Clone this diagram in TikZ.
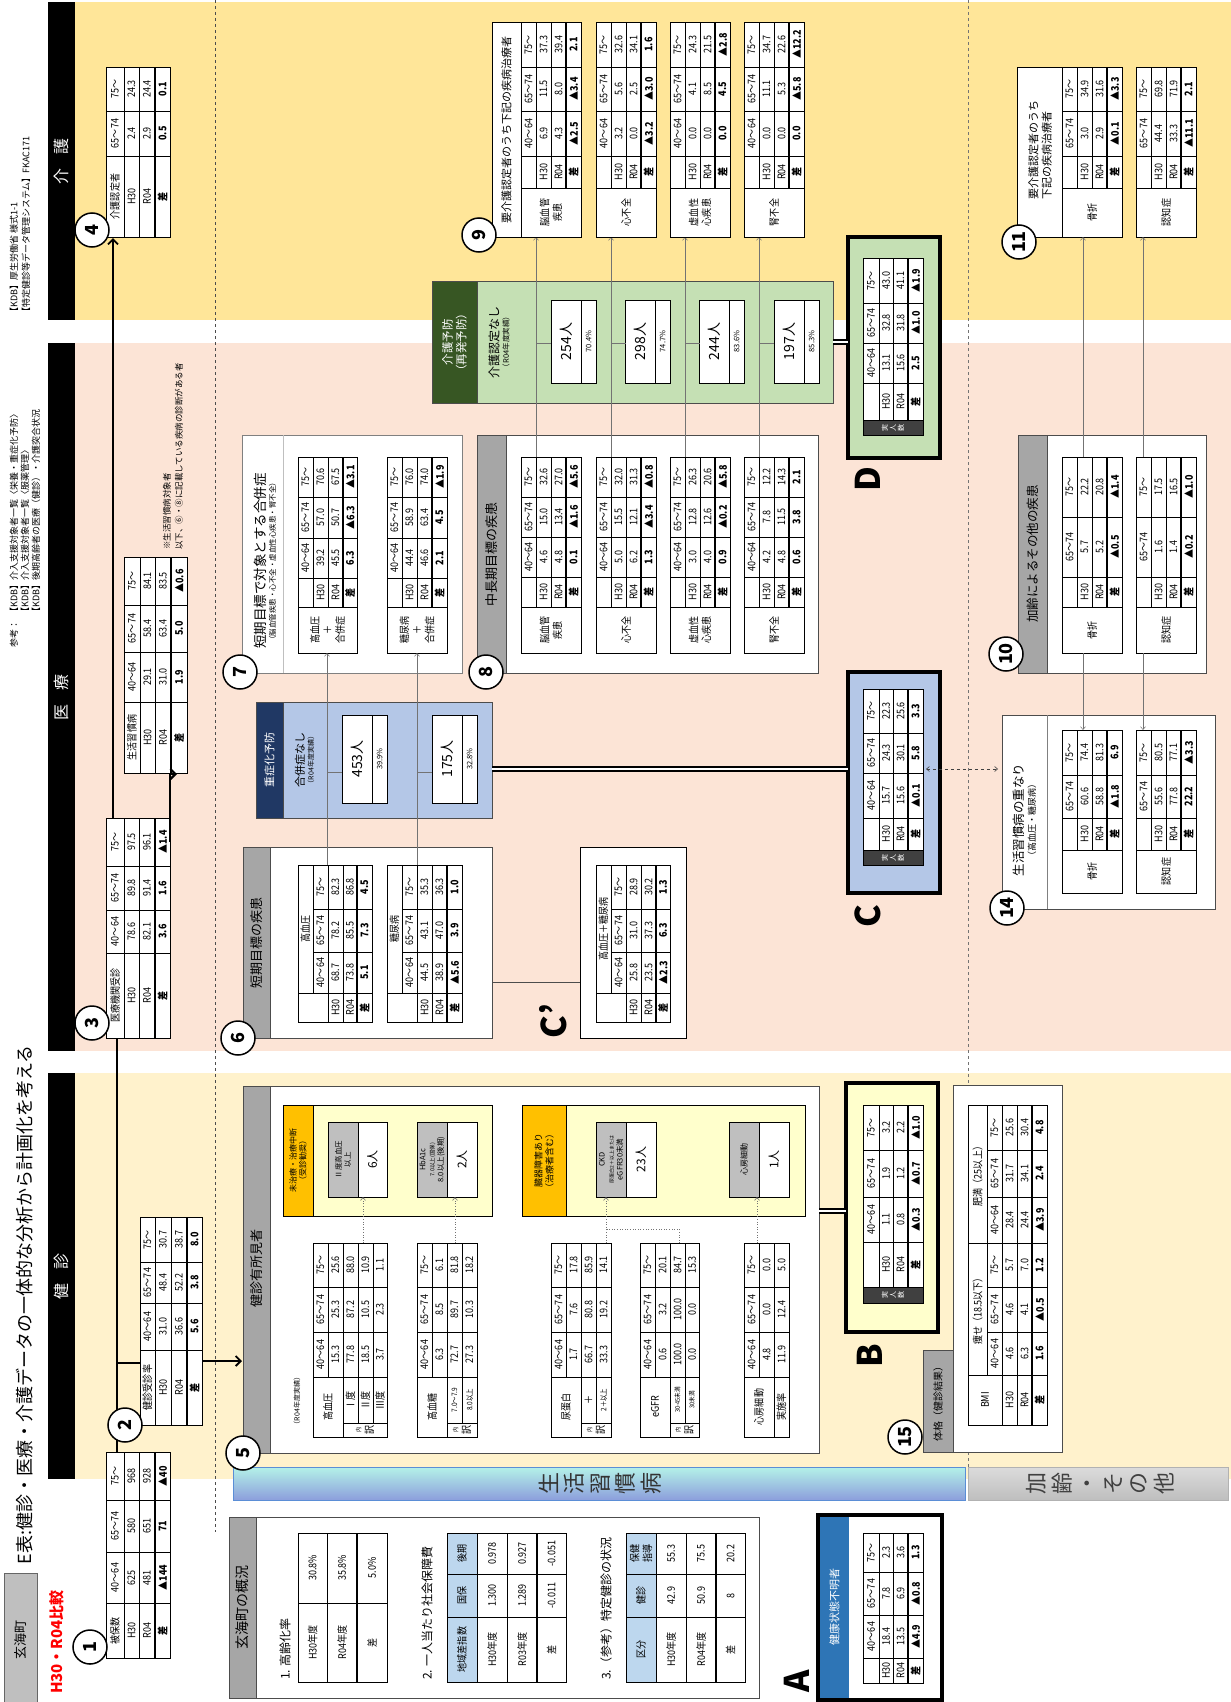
\documentclass[tikz,border=0pt]{standalone}
\usepackage{fontspec}
\setmainfont{Noto Sans CJK JP}
\newfontfamily\tabfont[FakeStretch=0.86]{Noto Sans CJK JP}
\usetikzlibrary{arrows.meta}
\definecolor{kaigo}{HTML}{FFE699}
\definecolor{iryo}{HTML}{FCE4D6}
\definecolor{kensin}{HTML}{FFF2CC}
\definecolor{ltyel}{HTML}{FFFFCC}
\definecolor{orng}{HTML}{FFC000}
\definecolor{gstrip}{HTML}{A6A6A6}
\definecolor{gcell}{HTML}{BFBFBF}
\definecolor{navy}{HTML}{203864}
\definecolor{ltblue}{HTML}{B4C7E7}
\definecolor{dkgreen}{HTML}{375623}
\definecolor{ltgreen}{HTML}{C5E0B4}
\definecolor{hdblue}{HTML}{BDD7EE}
\definecolor{blueA}{HTML}{2E75B6}
\definecolor{darkcell}{HTML}{404040}
\definecolor{cyanL}{HTML}{B4F2E8}
\definecolor{blueR}{HTML}{8C9EDC}
\definecolor{bandbd}{HTML}{5B8ED6}
\definecolor{grayL}{HTML}{DCDCDC}
\definecolor{grayR}{HTML}{BEBEBE}
\newcommand\fsz[1]{\fontsize{#1}{#1}\selectfont\baselineskip=1.2\baselineskip}
\newcommand\emp{}
\tikzset{
  cellb/.style={draw=black, line width=0.6pt},
  celltxt/.style={font=\tabfont\fsz{10.5}, inner sep=0pt, align=center},
  boxb/.style={draw=black!70, line width=0.8pt},
  numc/.style={circle, draw=black, line width=1.5pt, fill=white, minimum size=34pt, inner sep=0pt, font=\fsz{18}\bfseries},
  bigl/.style={font=\fsz{34}\bfseries, inner sep=0pt},
  hbar/.style={text=white, font=\fsz{16}},
  lbl/.style={inner sep=0pt, align=center},
  trunk/.style={draw=black, line width=1.8pt},
  barb/.style={-{Straight Barb[length=5pt,width=10pt]}},
  thinarr/.style={draw=black!55, line width=0.5pt, -{Straight Barb[length=3pt,width=5pt]}},
  thinln/.style={draw=black!55, line width=0.5pt},
  dotarr/.style={draw=black!55, line width=0.6pt, dotted, -{Straight Barb[length=3pt,width=5pt]}},
  dotln/.style={draw=black!55, line width=0.6pt, dotted},
  dbl/.style={draw=black, line width=1.3pt, double=white, double distance=2.5pt},
  thickbox/.style={draw=black, line width=3.5pt},
}
\newcommand\gtab[3]{%
  \def\tC{{#1}}\def\tR{{#2}}%
  \foreach \rw [count=\i from 0] in {#3} {%
    \foreach \cl [count=\j from 0] in \rw {%
      \pgfmathsetmacro\ya{\tC[\j]}\pgfmathsetmacro\yb{\tC[\j+1]}%
      \pgfmathsetmacro\xa{\tR[\i]}\pgfmathsetmacro\xb{\tR[\i+1]}%
      \draw[cellb, fill=white] (\ya,\xa) rectangle (\yb,\xb);
      \node[celltxt] at ({(\ya+\yb)/2},{(\xa+\xb)/2}) {\cl};
    }%
  }%
}
\newcommand\dtab[3]{%
  \def\tC{{#1}}\def\tR{{#2}}%
  \pgfmathtruncatemacro\tLR{dim(\tR)-2}%
  \pgfmathtruncatemacro\tLC{dim(\tC)-1}%
  \foreach \rw [count=\i from 0] in {#3} {%
    \foreach \cl [count=\j from 0] in \rw {%
      \pgfmathsetmacro\ya{\tC[\j]}\pgfmathsetmacro\yb{\tC[\j+1]}%
      \pgfmathsetmacro\xa{\tR[\i]}\pgfmathsetmacro\xb{\tR[\i+1]}%
      \draw[cellb, fill=white] (\ya,\xa) rectangle (\yb,\xb);
      \node[celltxt] at ({(\ya+\yb)/2},{(\xa+\xb)/2}) {\ifnum\i=\tLR\relax\bfseries\fi\cl};
    }%
  }%
  \pgfmathsetmacro\ya{\tC[0]}\pgfmathsetmacro\yb{\tC[\tLC]}\pgfmathsetmacro\xa{\tR[\tLR]}%
  \draw[line width=1.4pt] (\ya,\xa) -- (\yb,\xa);
}
\newcommand\mcell[6][]{%
  \draw[cellb, fill=white, #1] (#2,#3) rectangle (#4,#5);
  \node[celltxt] at ({(#2+#4)/2},{(#3+#5)/2}) {#6};
}
\begin{document}
\begin{tikzpicture}
\begin{scope}[x=-1pt, y=-1pt, rotate=90, transform shape]
\fill[white] (0,0) rectangle (1702,1231);
\useasboundingbox (0,0) rectangle (1702,1231);

% ---------- backgrounds ----------
\fill[kaigo] (2,75) rectangle (320,1231);
\fill[iryo] (343,75) rectangle (1051,1231);
\fill[kensin] (1073,75) rectangle (1479,1231);
\fill[black] (2,48) rectangle (320,75);
\fill[black] (343,48) rectangle (1051,75);
\fill[black] (1073,48) rectangle (1479,75);
\node[hbar] (hKaigo) at (161,61.5) {介\hspace{14pt}護};
\node[hbar] (hIryo) at (697,61.5) {医\hspace{14pt}療};
\node[hbar] (hKen) at (1276,61.5) {健\hspace{14pt}診};

\draw[dashed, draw=black!70, line width=0.6pt] (0,215) -- (1532,215);
\draw[dashed, draw=black!55, line width=0.6pt] (0,968) -- (1500,968);

% ---------- bands ----------
\draw[draw=bandbd, line width=0.8pt, top color=cyanL, bottom color=blueR] (1500,233) rectangle (1467,965);
\node[lbl, font=\fontsize{22}{25.5}\selectfont, text=black!80] (band1) at (1483.5,600) {生\\活\\習\\慣\\病};
\draw[draw=black!30, line width=0.6pt, top color=grayL, bottom color=grayR] (1500,968) rectangle (1467,1228);
\node[lbl, font=\fontsize{22}{25.5}\selectfont, text=black!75] (band2) at (1483.5,1100) {加\\齢\\・\\そ\\の\\他};

% ---------- top texts ----------
\node[anchor=west, inner sep=0pt, font=\fsz{9}] (ref0) at (648,14) {参考：};
\node[anchor=west, inner sep=0pt, font=\fsz{9}] (ref1) at (617,14) {【KDB】介入支援対象者一覧〈栄養・重症化予防〉};
\node[anchor=west, inner sep=0pt, font=\fsz{9}] (ref2) at (617,25) {【KDB】介入支援対象者一覧〈服薬管理〉};
\node[anchor=west, inner sep=0pt, font=\fsz{9}] (ref3) at (617,36) {【KDB】後期高齢者の医療（健診）・介護突合状況};
\node[anchor=west, inner sep=0pt, font=\fsz{9}] (ref4) at (317,14) {【KDB】厚生労働省 様式1-1};
\node[anchor=west, inner sep=0pt, font=\fsz{9}] (ref5) at (317,26) {【特定健診等データ管理システム】FKAC171};
\node[lbl, font=\fsz{18}] (title) at (1305,25) {E表:健診・医療・介護データの一体的な分析から計画化を考える};
\draw[draw=black!60, fill=gcell] (1702,4) rectangle (1573,37);
\node[lbl, font=\fsz{13}] (town) at (1640,20.5) {玄海町};
\node[lbl, font=\fsz{15}\bfseries, text=red] (cmp) at (1642,57) {H30・R04比較};
\node[anchor=west, inner sep=0pt, font=\fsz{8.5}] (note1) at (550,167) {※生活習慣病対象者};
\node[anchor=west, inner sep=0pt, font=\fsz{8.5}] (note2) at (550,179) {以下、⑥・⑧に記載している疾病の診断がある者};

% ---------- tables 1-4 ----------
\dtab{1658,1603,1552,1500,1452}{106,124,139,155,170}{{被保数,40～64,65～74,75～},{H30,625,580,968},{R04,481,651,928},{差,▲144,71,▲40}}
\dtab{1425,1350,1303,1262,1217}{140,155,171,187,202}{{健診受診率,40～64,65～74,75～},{H30,31.0,48.4,30.7},{R04,36.6,52.2,38.7},{差,5.6,3.8,8.0}}
\dtab{1038,953,910,866,818}{106,124,139,155,170}{{医療機関受診,40～64,65～74,75～},{H30,78.6,89.8,97.5},{R04,82.1,91.4,96.1},{差,3.6,1.6,▲1.4}}
\dtab{773,702,652,605,557}{124,140,155,171,187}{{生活習慣病,40～64,65～74,75～},{H30,29.1,58.4,84.1},{R04,31.0,63.4,83.5},{差,1.9,5.0,▲0.6}}
\dtab{237,156,111,67}{106,124,139,155,170}{{介護認定者,65～74,75～},{H30,2.4,24.3},{R04,2.9,24.4},{差,0.5,0.1}}

% ---------- 玄海町の概況 ----------
\draw[boxb, fill=white] (1698,229) rectangle (1517,759);
\draw[boxb, fill=gstrip] (1698,229) rectangle (1517,256);
\node[lbl, font=\fsz{14}] (gaikyo) at (1607,242.5) {玄海町の概況};
\node[anchor=west, inner sep=0pt, font=\fsz{12}] (g1) at (1680,285) {1. 高齢化率};
\gtab{1682,1603,1533}{298,327,357,387}{{H30年度,30.8\%},{R04年度,35.8\%},{差,5.0\%}}
\draw[line width=1.4pt] (1682,357) -- (1533,357);
\node[anchor=west, inner sep=0pt, font=\fsz{12}] (g2) at (1680,427) {2. 一人当たり社会保障費};
\gtab{1682,1617,1574,1533}{447,477,507,537,566}{{地域差指数,国保,後期},{H30年度,1.300,0.978},{R03年度,1.289,0.927},{差,-0.011,-0.051}}
\mcell[fill=hdblue]{1682}{447}{1617}{477}{地域差指数}
\mcell[fill=hdblue]{1617}{447}{1574}{477}{国保}
\mcell[fill=hdblue]{1574}{447}{1533}{477}{後期}
\draw[line width=1.4pt] (1682,537) -- (1533,537);
\node[anchor=west, inner sep=0pt, font=\fsz{12}] (g3) at (1680,606) {3.（参考）特定健診の状況};
\gtab{1682,1617,1574,1533}{626,656,686,716,745}{{区分,健診,保健指導},{H30年度,42.9,55.3},{R04年度,50.9,75.5},{差,8,20.2}}
\mcell[fill=hdblue]{1682}{626}{1617}{656}{区分}
\mcell[fill=hdblue]{1617}{626}{1574}{656}{健診}
\mcell[fill=hdblue]{1574}{626}{1533}{656}{保健\\指導}
\draw[line width=1.4pt] (1682,716) -- (1533,716);

% ---------- Box A ----------
\draw[thickbox, fill=white] (1700,818) rectangle (1515,942);
\fill[blueA] (1698,820) rectangle (1517,849);
\node[lbl, text=white, font=\fsz{11}] (aHead) at (1607,834.5) {健康状態不明者};
\dtab{1683,1658,1615,1572,1533}{863,879,893,908,923}{{\emp,40～64,65～74,75～},{H30,18.4,7.8,2.3},{R04,13.5,6.9,3.6},{差,▲4.9,▲0.8,1.3}}
\node[bigl] (letA) at (1681,797) {A};

% ---------- Box 5 ----------
\draw[boxb, fill=white] (1453,243) rectangle (1086,819);
\draw[boxb, fill=gstrip] (1453,243) rectangle (1086,270);
\node[lbl, font=\fsz{13}] (b5t) at (1268,256.5) {健診有所見者};
\node[lbl, font=\fsz{7}] (b5s) at (1401,297) {（R04年度実績）};
\gtab{1423,1377,1332,1287,1243}{313,328,343,358,373,387}{{\emp,40～64,65～74,75～},{\emp,15.3,25.3,25.6},{Ⅰ度,77.8,87.2,88.0},{Ⅱ度,18.5,10.5,10.9},{Ⅲ度,3.7,2.3,1.1}}
\mcell{1437}{313}{1377}{343}{高血圧}
\mcell{1437}{343}{1423}{387}{\fsz{6}内\\訳}
\gtab{1423,1377,1332,1287,1243}{417,432,447,462,477}{{\emp,40～64,65～74,75～},{\emp,6.3,8.5,6.1},{\fsz{7.5}7.0～7.9,72.7,89.7,81.8},{\fsz{7.5}8.0以上,27.3,10.3,18.2}}
\mcell{1437}{417}{1377}{447}{高血糖}
\mcell{1437}{447}{1423}{477}{\fsz{6}内\\訳}
\gtab{1423,1377,1332,1287,1243}{551,566,581,596,611}{{\emp,40～64,65～74,75～},{\emp,1.7,7.6,17.8},{＋,66.7,80.8,85.9},{\fsz{7.5}2＋以上,33.3,19.2,14.1}}
\mcell{1437}{551}{1377}{581}{尿蛋白}
\mcell{1437}{581}{1423}{611}{\fsz{6}内\\訳}
\gtab{1423,1377,1332,1287,1243}{640,655,670,685,699}{{\emp,40～64,65～74,75～},{\emp,0.6,3.2,20.1},{\fsz{6.5}30-45未満,100.0,100.0,84.7},{\fsz{6.5}30未満,0.0,0.0,15.3}}
\mcell{1437}{640}{1377}{670}{eGFR}
\mcell{1437}{670}{1423}{699}{\fsz{6}内\\訳}
\gtab{1377,1332,1287,1243}{744,759,774,789}{{40～64,65～74,75～},{4.8,0.0,0.0},{11.9,12.4,5.0}}
\mcell{1437}{744}{1377}{774}{心房細動}
\mcell{1437}{774}{1377}{789}{実施率}

\draw[draw=black, line width=0.8pt, fill=ltyel] (1216,283) rectangle (1105,492);
\draw[draw=black, line width=0.8pt, fill=orng] (1216,283) rectangle (1105,313);
\node[lbl, font=\fsz{8}] (or1) at (1160.5,298) {未治療・治療中断\\（受診勧奨）};
\draw[cellb, fill=gcell] (1197,328) rectangle (1122,358);
\node[lbl, font=\fsz{7.5}] (sb1) at (1159.5,343) {Ⅱ度高血圧\\以上};
\draw[cellb, fill=white] (1197,358) rectangle (1122,387);
\node[lbl, font=\fsz{12}] (p6) at (1159.5,372.5) {6人};
\draw[cellb, fill=gcell] (1197,417) rectangle (1122,447);
\node[lbl, font=\fsz{7.5}] (sb2) at (1159.5,432) {HbA1c\\\fsz{5.5}7.0以上(国保)\\8.0以上(後期)};
\draw[cellb, fill=white] (1197,447) rectangle (1122,477);
\node[lbl, font=\fsz{12}] (p2) at (1159.5,462) {2人};

\draw[draw=black, line width=0.8pt, fill=ltyel] (1216,522) rectangle (1105,805);
\draw[draw=black, line width=0.8pt, fill=orng] (1216,522) rectangle (1105,566);
\node[lbl, font=\fsz{9}] (or2) at (1160.5,544) {臓器障害あり\\（治療者含む）};
\draw[cellb, fill=gcell] (1197,596) rectangle (1122,626);
\node[lbl, font=\fsz{7.5}] (sb3) at (1159.5,611) {CKD\\\fsz{5}尿蛋白2＋以上または\\eGFR30未満};
\draw[cellb, fill=white] (1197,626) rectangle (1122,656);
\node[lbl, font=\fsz{12}] (p23) at (1159.5,641) {23人};
\draw[cellb, fill=gcell] (1197,729) rectangle (1122,759);
\node[lbl, font=\fsz{8}] (sb4) at (1159.5,744) {心房細動};
\draw[cellb, fill=white] (1197,759) rectangle (1122,789);
\node[lbl, font=\fsz{12}] (p1) at (1159.5,774) {1人};

\coordinate (d1a) at (1243,363); \coordinate (d1b) at (1197,363);
\draw[dotarr] (d1a) -- (d1b);
\coordinate (d2a) at (1243,455); \coordinate (d2b) at (1197,455);
\draw[dotarr] (d2a) -- (d2b);
\coordinate (d3a) at (1243,606); \coordinate (d3b) at (1197,606);
\draw[dotarr] (d3a) -- (d3b);
\coordinate (d4a) at (1243,679); \coordinate (d4b) at (1229,679); \coordinate (d4c) at (1229,606);
\draw[dotln] (d4a) -- (d4b) -- (d4c);
\coordinate (d5a) at (1243,757); \coordinate (d5b) at (1197,757);
\draw[dotarr] (d5a) -- (d5b);

% ---------- Box B ----------
\draw[thickbox, fill=ltyel] (1332,846) rectangle (1083,938);
\dtab{1287,1242,1197,1150,1105}{863,879,893,908,923}{{\emp,40～64,65～74,75～},{H30,1.1,1.9,3.2},{R04,0.8,1.2,2.2},{差,▲0.3,▲0.7,▲1.0}}
\draw[cellb, fill=darkcell] (1303,863) rectangle (1287,923);
\node[lbl, text=white, font=\fontsize{7}{8}\selectfont] (jB) at (1295,893) {実\\人\\数};
\node[bigl] (letB) at (1356,870) {B};

% ---------- Box 15 ----------
\draw[boxb, fill=white] (1452,953) rectangle (1085,1062);
\draw[boxb, fill=gstrip] (1452,923) rectangle (1350,953);
\node[lbl, font=\fsz{10}] (b15t) at (1401,938) {体格（健診結果）};
\dtab{1425,1375,1332,1287,1243,1197,1150,1105}{968,987,1002,1017,1032,1047}{{\emp,\emp,\emp,\emp,\emp,\emp,\emp},{\emp,40～64,65～74,75～,40～64,65～74,75～},{H30,4.6,4.6,5.7,28.4,31.7,25.6},{R04,6.3,4.1,7.0,24.4,34.1,30.4},{差,1.6,▲0.5,1.2,▲3.9,2.4,4.8}}
\mcell{1425}{968}{1375}{1002}{BMI}
\mcell{1375}{968}{1243}{987}{痩せ（18.5以下）}
\mcell{1243}{968}{1105}{987}{肥満（25以上）}

% ---------- Box 6 ----------
\draw[boxb, fill=white] (1038,243) rectangle (847,492);
\draw[boxb, fill=gstrip] (1038,243) rectangle (847,270);
\node[lbl, font=\fsz{13}] (b6t) at (942.5,256.5) {短期目標の疾患};
\dtab{1022,993,952,909,865}{298,313,328,343,357,372}{{\emp,\emp,\emp,\emp},{\emp,40～64,65～74,75～},{H30,68.7,78.2,82.3},{R04,73.8,85.5,86.8},{差,5.1,7.3,4.5}}
\mcell{993}{298}{865}{313}{高血圧}
\mcell{1022}{298}{993}{328}{\emp}
\dtab{1022,993,952,909,865}{387,402,417,432,447,462}{{\emp,\emp,\emp,\emp},{\emp,40～64,65～74,75～},{H30,44.5,43.1,35.3},{R04,38.9,47.0,36.3},{差,▲5.6,3.9,1.0}}
\mcell{993}{387}{865}{402}{糖尿病}
\mcell{1022}{387}{993}{417}{\emp}

\draw[draw=black, line width=1pt, fill=white] (1038,580) rectangle (847,686);
\dtab{1022,993,952,909,865}{596,611,626,641,656,670}{{\emp,\emp,\emp,\emp},{\emp,40～64,65～74,75～},{H30,25.8,31.0,28.9},{R04,23.5,37.3,30.2},{差,▲2.3,6.3,1.3}}
\mcell{993}{596}{865}{611}{高血圧＋糖尿病}
\mcell{1022}{596}{993}{626}{\emp}
\coordinate (cpa) at (982,492); \coordinate (cpb) at (982,580);
\draw[draw=black!70, line width=0.7pt] (cpa) -- (cpb);
\node[bigl] (letCp) at (1021,553) {C’};

% ---------- blue box ----------
\draw[boxb, fill=ltblue] (818,256) rectangle (702,492);
\draw[boxb, fill=navy] (818,256) rectangle (702,283);
\node[lbl, text=white, font=\fsz{11}] (bbt) at (760,269.5) {重症化予防};
\node[lbl, font=\fsz{11}] (bbs) at (760,300) {合併症なし};
\node[lbl, font=\fsz{7}] (bbs2) at (760,311) {（R04年度実績）};
\draw[cellb, fill=white] (803,342) rectangle (715,372);
\draw[cellb, fill=white] (803,372) rectangle (715,387);
\node[lbl, font=\fsz{14}] (p453) at (759,357) {453人};
\node[lbl, font=\fsz{7.5}] (r399) at (759,379.5) {39.9\%};
\draw[cellb, fill=white] (803,432) rectangle (715,462);
\draw[cellb, fill=white] (803,462) rectangle (715,477);
\node[lbl, font=\fsz{14}] (p175) at (759,447) {175人};
\node[lbl, font=\fsz{7.5}] (r328) at (759,469.5) {32.8\%};

% ---------- Box 7 ----------
\draw[draw=black!50, line width=0.6pt, fill=white] (673,242) rectangle (435,462);
\draw[draw=black!25, line width=0.5pt] (673,283) -- (435,283);
\node[lbl, font=\fsz{13.5}] (b7t) at (561,260) {短期目標で対象とする合併症};
\node[lbl, font=\fsz{7.5}] (b7s) at (561,272.5) {（脳血管疾患・心不全・虚血性心疾患・腎不全）};
\dtab{607,578,538,497,457}{298,313,328,343,357}{{\emp,40～64,65～74,75～},{H30,39.2,57.0,70.6},{R04,45.5,50.7,67.5},{差,6.3,▲6.3,▲3.1}}
\mcell{653}{298}{607}{357}{高血圧\\＋\\合併症}
\dtab{607,578,538,497,457}{387,402,417,432,447}{{\emp,40～64,65～74,75～},{H30,44.4,58.9,76.0},{R04,46.6,63.4,74.0},{差,2.1,4.5,▲1.9}}
\mcell{653}{387}{607}{447}{糖尿病\\＋\\合併症}

\coordinate (v1a) at (865,327); \coordinate (v1b) at (653,327);
\draw[thinarr] (v1a) -- (v1b);
\coordinate (k1a) at (772,327); \coordinate (k1b) at (772,342);
\draw[thinln] (k1a) -- (k1b);
\coordinate (v2a) at (865,417); \coordinate (v2b) at (653,417);
\draw[thinarr] (v2a) -- (v2b);
\coordinate (k2a) at (772,417); \coordinate (k2b) at (772,432);
\draw[thinln] (k2a) -- (k2b);

% ---------- Box 8 ----------
\draw[boxb, fill=white] (673,477) rectangle (435,818);
\draw[boxb, fill=gstrip] (673,477) rectangle (435,506);
\node[lbl, font=\fsz{13}] (b8t) at (554,491.5) {中長期目標の疾患};
\dtab{607,577,537,497,457}{521,536,551,566,581}{{\emp,40～64,65～74,75～},{H30,4.6,15.0,32.6},{R04,4.8,13.4,27.0},{差,0.1,▲1.6,▲5.6}}
\mcell{653}{521}{607}{581}{脳血管\\疾患}
\dtab{607,577,537,497,457}{596,611,626,641,656}{{\emp,40～64,65～74,75～},{H30,5.0,15.5,32.0},{R04,6.2,12.1,31.3},{差,1.3,▲3.4,▲0.8}}
\mcell{653}{596}{607}{656}{心不全}
\dtab{607,577,537,497,457}{670,685,700,715,730}{{\emp,40～64,65～74,75～},{H30,3.0,12.8,26.3},{R04,4.0,12.6,20.6},{差,0.9,▲0.2,▲5.8}}
\mcell{653}{670}{607}{730}{虚血性\\心疾患}
\dtab{607,577,537,497,457}{744,759,774,789,804}{{\emp,40～64,65～74,75～},{H30,4.2,7.8,12.2},{R04,4.8,11.5,14.3},{差,0.6,3.8,2.1}}
\mcell{653}{744}{607}{804}{腎不全}

% ---------- green box ----------
\draw[boxb, fill=ltgreen] (403,432) rectangle (281,833);
\draw[boxb, fill=dkgreen] (403,432) rectangle (281,477);
\node[lbl, text=white, font=\fsz{11.5}] (gbt) at (342,454.5) {介護予防\\（再発予防）};
\node[lbl, font=\fsz{12}] (gbs) at (342,494) {介護認定なし};
\node[lbl, font=\fsz{7.5}] (gbs2) at (342,506) {（R04年度実績）};
\foreach \X/\P/\R [count=\k] in {551/254/70.4,625/298/74.7,699/244/83.6,774/197/85.3} {
  \draw[cellb, fill=white] (383,\X) rectangle (300,\X+30);
  \draw[cellb, fill=white] (383,\X+30) rectangle (300,\X+45);
  \node[lbl, font=\fsz{14}] (gp\k) at (341.5,\X+15) {\P 人};
  \node[lbl, font=\fsz{7.5}] (gr\k) at (341.5,\X+37.5) {\R\%};
}
\foreach \X/\n in {536/a,611/b,685/c,759/d} {
  \coordinate (g\n1) at (457,\X); \coordinate (g\n2) at (237,\X);
  \draw[thinarr] (g\n1) -- (g\n2);
  \coordinate (t\n1) at (343,\X); \coordinate (t\n2) at (343,\X+15);
  \draw[thinln] (t\n1) -- (t\n2);
}

% ---------- Box 9 ----------
\draw[cellb, fill=white] (237,492) rectangle (22,521);
\node[lbl, font=\fsz{11}] (b9t) at (129.5,506.5) {要介護認定者のうち下記の疾病治療者};
\dtab{188,156,111,67,22}{521,536,551,566,581}{{\emp,40～64,65～74,75～},{H30,6.9,11.5,37.3},{R04,4.3,8.0,39.4},{差,▲2.5,▲3.4,2.1}}
\mcell{237}{521}{188}{581}{脳血管\\疾患}
\dtab{188,156,111,67,22}{596,611,626,641,656}{{\emp,40～64,65～74,75～},{H30,3.2,5.6,32.6},{R04,0.0,2.5,34.1},{差,▲3.2,▲3.0,1.6}}
\mcell{237}{596}{188}{656}{心不全}
\dtab{188,156,111,67,22}{670,685,700,715,730}{{\emp,40～64,65～74,75～},{H30,0.0,4.1,24.3},{R04,0.0,8.5,21.5},{差,0.0,4.5,▲2.8}}
\mcell{237}{670}{188}{730}{虚血性\\心疾患}
\dtab{188,156,111,67,22}{744,759,774,789,804}{{\emp,40～64,65～74,75～},{H30,0.0,11.1,34.7},{R04,0.0,5.3,22.6},{差,0.0,▲5.8,▲12.2}}
\mcell{237}{744}{188}{804}{腎不全}

% ---------- Box D ----------
\draw[thickbox, fill=ltgreen] (458,848) rectangle (237,940);
\dtab{420,383,343,303,258}{863,879,893,908,923}{{\emp,40～64,65～74,75～},{H30,13.1,32.8,43.0},{R04,15.6,31.8,41.1},{差,2.5,▲1.0,▲1.9}}
\draw[cellb, fill=darkcell] (435,863) rectangle (420,923);
\node[lbl, text=white, font=\fontsize{7}{8}\selectfont] (jD) at (427.5,893) {実\\人\\数};
\node[bigl] (letD) at (479,868) {D};

% ---------- Box C ----------
\draw[thickbox, fill=ltblue] (893,848) rectangle (672,940);
\dtab{850,818,773,733,689}{863,879,893,908,923}{{\emp,40～64,65～74,75～},{H30,15.7,24.3,22.3},{R04,15.6,30.1,25.6},{差,▲0.1,5.8,3.3}}
\draw[cellb, fill=darkcell] (865,863) rectangle (850,923);
\node[lbl, text=white, font=\fontsize{7}{8}\selectfont] (jC) at (857.5,893) {実\\人\\数};
\node[bigl] (letC) at (916,868) {C};

% ---------- Box 10 ----------
\draw[boxb, fill=white] (673,1018) rectangle (435,1206);
\draw[boxb, fill=gstrip] (673,1018) rectangle (435,1047);
\node[lbl, font=\fsz{12.5}] (b10t) at (554,1032.5) {加齢によるその他の疾患};
\dtab{607,577,517,457}{1062,1077,1092,1107,1122}{{\emp,65～74,75～},{H30,5.7,22.2},{R04,5.2,20.8},{差,▲0.5,▲1.4}}
\mcell{653}{1062}{607}{1122}{骨折}
\dtab{607,577,517,457}{1136,1151,1166,1181,1196}{{\emp,65～74,75～},{H30,1.6,17.5},{R04,1.4,16.5},{差,▲0.2,▲1.0}}
\mcell{653}{1136}{607}{1196}{認知症}

% ---------- Box 11 ----------
\draw[cellb, fill=white] (237,1017) rectangle (67,1062);
\node[lbl, align=left, font=\fsz{11}] (b11t) at (150,1040) {要介護認定者のうち\\下記の疾病治療者};
\dtab{188,156,111,67}{1062,1077,1092,1107,1122}{{\emp,65～74,75～},{H30,3.0,34.9},{R04,2.9,31.6},{差,▲0.1,▲3.3}}
\mcell{237}{1062}{188}{1122}{骨折}
\dtab{188,156,111,67}{1136,1151,1166,1181,1196}{{\emp,65～74,75～},{H30,44.4,69.8},{R04,33.3,71.9},{差,▲11.1,2.1}}
\mcell{237}{1136}{188}{1196}{認知症}

% ---------- Box 14 ----------
\draw[boxb, fill=white] (909,1002) rectangle (715,1215);
\draw[draw=black!50, line width=0.5pt] (909,1047) -- (715,1047);
\node[lbl, font=\fsz{12.5}] (b14t) at (820,1019) {生活習慣病の重なり};
\node[lbl, font=\fsz{9}] (b14s) at (820,1032) {（高血圧・糖尿病）};
\dtab{850,818,775,730}{1062,1077,1092,1107,1122}{{\emp,65～74,75～},{H30,60.6,74.4},{R04,58.8,81.3},{差,▲1.8,6.9}}
\mcell{893}{1062}{850}{1122}{骨折}
\dtab{850,818,775,730}{1136,1151,1166,1181,1196}{{\emp,65～74,75～},{H30,55.6,80.5},{R04,77.8,77.1},{差,22.2,▲3.3}}
\mcell{893}{1136}{850}{1196}{認知症}

\foreach \X/\n in {1083/a,1143/b} {
  \coordinate (u\n1) at (457,\X); \coordinate (u\n2) at (237,\X);
  \draw[thinarr] (u\n1) -- (u\n2);
  \coordinate (w\n1) at (653,\X); \coordinate (w\n2) at (730,\X);
  \draw[thinarr] (w\n1) -- (w\n2);
}

% ---------- main connectors ----------
\coordinate (c1a) at (1452,117); \coordinate (c1b) at (1038,117);
\draw[trunk] (c1a) -- (c1b);
\coordinate (c2a) at (1363,117); \coordinate (c2b) at (1363,140);
\draw[trunk] (c2a) -- (c2b);
\coordinate (c3a) at (1361,202); \coordinate (c3b) at (1361,242);
\draw[trunk, barb] (c3a) -- (c3b);
\coordinate (c4a) at (818,113); \coordinate (c4b) at (238,113);
\draw[trunk, barb] (c4a) -- (c4b);
\coordinate (c5a) at (842,170); \coordinate (c5b) at (774,177);
\draw[trunk, line width=2.2pt, barb] (c5a) -| (c5b);

\coordinate (e1a) at (1211,819); \coordinate (e1b) at (1211,846);
\draw[dbl] (e1a) -- (e1b);
\coordinate (e2a) at (769,492); \coordinate (e2b) at (769,848);
\draw[dbl] (e2a) -- (e2b);
\coordinate (e3a) at (342,833); \coordinate (e3b) at (342,848);
\draw[dbl] (e3a) -- (e3b);
\coordinate (f1a) at (769,926); \coordinate (f1b) at (769,998);
\draw[dashed, draw=black!75, line width=0.6pt, {Straight Barb[length=3pt,width=5pt]}-{Straight Barb[length=3pt,width=5pt]}] (f1a) -- (f1b);

% ---------- circled numbers ----------
\node[numc] (n1) at (1647,90) {1};
\node[numc] (n2) at (1425,125) {2};
\node[numc] (n3) at (1023,92) {3};
\node[numc] (n4) at (230,92) {4};
\node[numc] (n5) at (1453,243) {5};
\node[numc] (n6) at (1038,238) {6};
\node[numc] (n7) at (672,240) {7};
\node[numc] (n8) at (672,486) {8};
\node[numc] (n9) at (235,479) {9};
\node[numc] (n10) at (654,1006) {10};
\node[numc] (n11) at (242,1019) {11};
\node[numc] (n14) at (908,1007) {14};
\node[numc] (n15) at (1437,905) {15};
\end{scope}
\end{tikzpicture}
\end{document}
